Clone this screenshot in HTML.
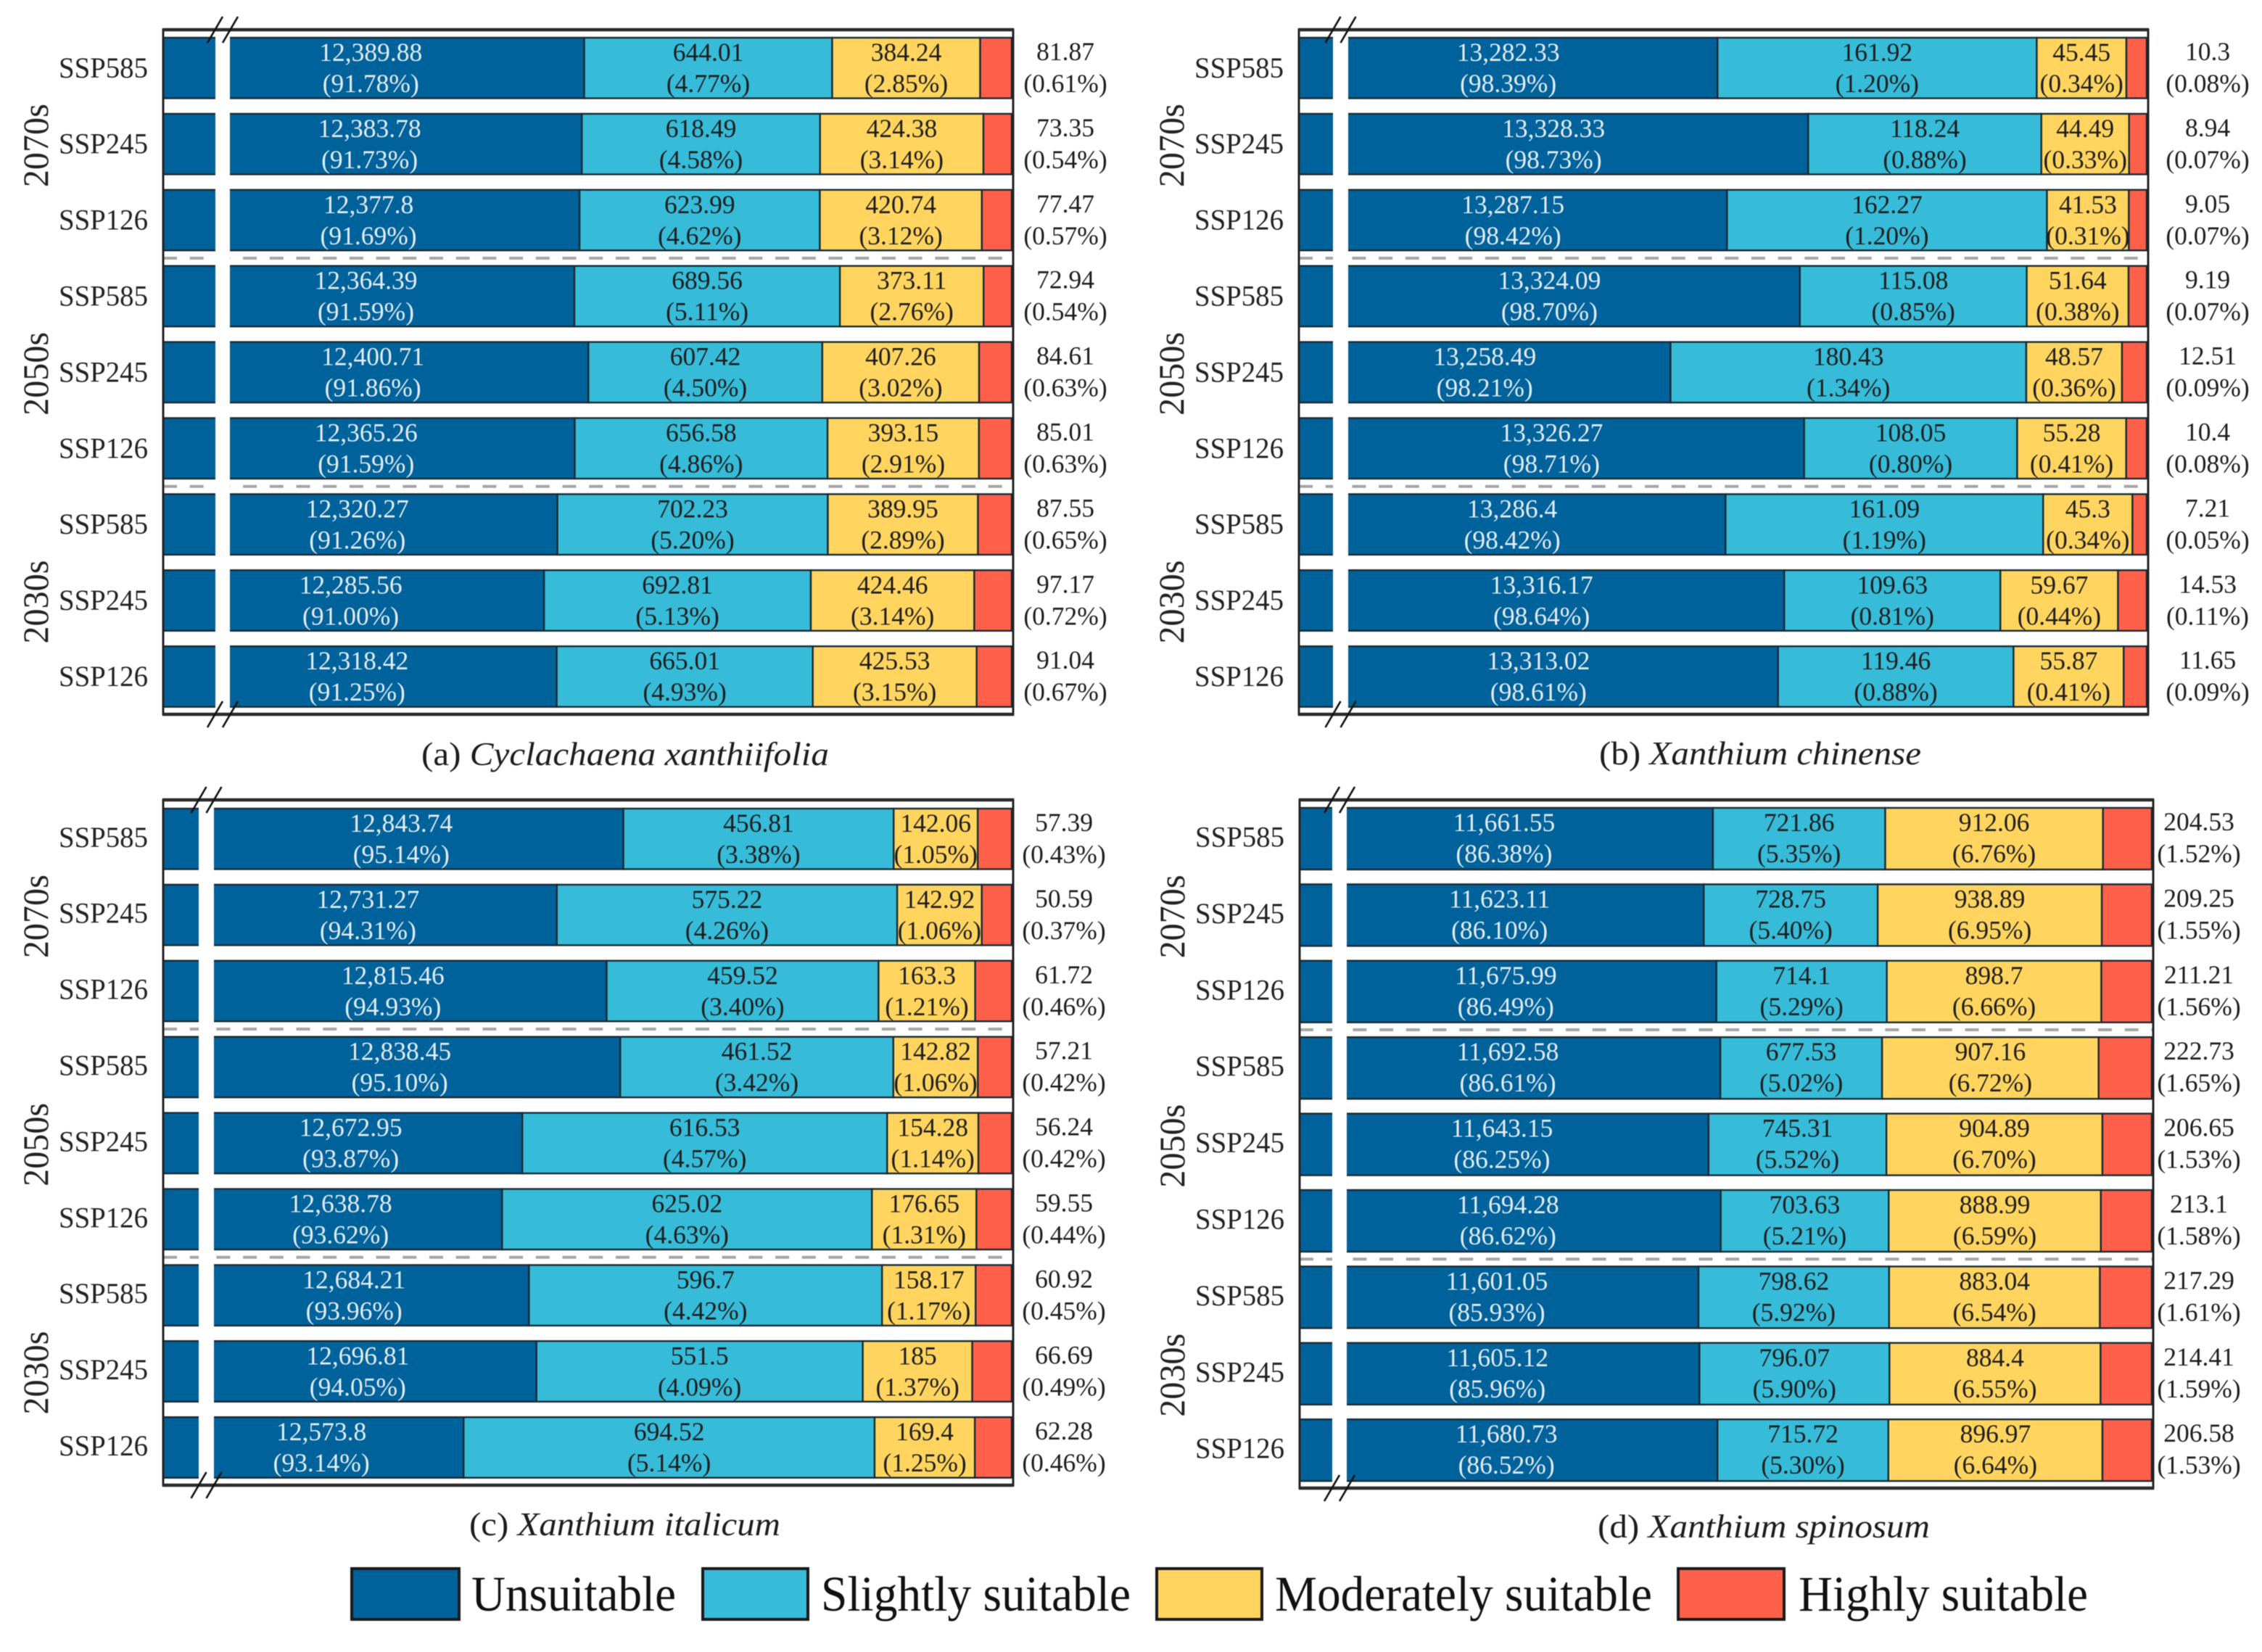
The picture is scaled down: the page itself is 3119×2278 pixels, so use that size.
<!DOCTYPE html>
<html lang="en">
<head>
<meta charset="utf-8">
<title>Suitable habitat area by species, period and scenario</title>
<style>
  html, body { margin: 0; padding: 0; background: #fff; }
  #chart { display: block; width: 3119px; height: 2278px; filter: blur(0.5px); font-family: "Liberation Serif", "Times New Roman", serif; }
</style>
</head>
<body>
<svg id="chart" xmlns="http://www.w3.org/2000/svg" width="3119" height="2278" viewBox="0 0 3119 2278"></svg>
<script>
// Category labels
const periods = ['2070s', '2050s', '2030s'];
const scenarios = ['SSP585', 'SSP245', 'SSP126'];
const classNames = ['Unsuitable', 'Slightly suitable', 'Moderately suitable', 'Highly suitable'];

// (a) Cyclachaena xanthiifolia, rows top to bottom
const aUnsuitable = [12389.88, 12383.78, 12377.8, 12364.39, 12400.71, 12365.26, 12320.27, 12285.56, 12318.42];
const aSlightly = [644.01, 618.49, 623.99, 689.56, 607.42, 656.58, 702.23, 692.81, 665.01];
const aModerately = [384.24, 424.38, 420.74, 373.11, 407.26, 393.15, 389.95, 424.46, 425.53];
const aHighly = [81.87, 73.35, 77.47, 72.94, 84.61, 85.01, 87.55, 97.17, 91.04];

// (b) Xanthium chinense
const bUnsuitable = [13282.33, 13328.33, 13287.15, 13324.09, 13258.49, 13326.27, 13286.4, 13316.17, 13313.02];
const bSlightly = [161.92, 118.24, 162.27, 115.08, 180.43, 108.05, 161.09, 109.63, 119.46];
const bModerately = [45.45, 44.49, 41.53, 51.64, 48.57, 55.28, 45.3, 59.67, 55.87];
const bHighly = [10.3, 8.94, 9.05, 9.19, 12.51, 10.4, 7.21, 14.53, 11.65];

// (c) Xanthium italicum
const cUnsuitable = [12843.74, 12731.27, 12815.46, 12838.45, 12672.95, 12638.78, 12684.21, 12696.81, 12573.8];
const cSlightly = [456.81, 575.22, 459.52, 461.52, 616.53, 625.02, 596.7, 551.5, 694.52];
const cModerately = [142.06, 142.92, 163.3, 142.82, 154.28, 176.65, 158.17, 185, 169.4];
const cHighly = [57.39, 50.59, 61.72, 57.21, 56.24, 59.55, 60.92, 66.69, 62.28];

// (d) Xanthium spinosum
const dUnsuitable = [11661.55, 11623.11, 11675.99, 11692.58, 11643.15, 11694.28, 11601.05, 11605.12, 11680.73];
const dSlightly = [721.86, 728.75, 714.1, 677.53, 745.31, 703.63, 798.62, 796.07, 715.72];
const dModerately = [912.06, 938.89, 898.7, 907.16, 904.89, 888.99, 883.04, 884.4, 896.97];
const dHighly = [204.53, 209.25, 211.21, 222.73, 206.65, 213.1, 217.29, 214.41, 206.58];

const NS = 'http://www.w3.org/2000/svg';
const root = document.getElementById('chart');
const classColors = ['#00629b', '#36bcd9', '#ffd55f', '#ff604a'];
const classSlugs = ['unsuitable', 'slightly-suitable', 'moderately-suitable', 'highly-suitable'];
const DARK = '#1d1d1d';

function make(tag, attrs, parent) {
  const el = document.createElementNS(NS, tag);
  for (const k in attrs) el.setAttribute(k, attrs[k]);
  (parent || root).appendChild(el);
  return el;
}
function fmtValue(v) {
  return v.toLocaleString('en-US', { maximumFractionDigits: 2 });
}
function fmtShare(v, total) {
  return '(' + (v / total * 100).toFixed(2) + '%)';
}

const panels = [
  { id: 'a', series: [aUnsuitable, aSlightly, aModerately, aHighly],
    left: 225, right: 1397, top: 41, bottom: 985, barTop: 52, pitch: 104.9, barH: 83.5, labelNudge: 0,
    domainStart: 11296.5, rangeEnd: 1395, gapL: 297, gapR: 317, firstShift: -4, outsideX: 1469,
    capPrefix: '(a) ', capName: 'Cyclachaena xanthiifolia', capL: 581, capR: 1143, capY: 1055 },
  { id: 'b', series: [bUnsuitable, bSlightly, bModerately, bHighly],
    left: 1791, right: 2962, top: 41, bottom: 985, barTop: 52, pitch: 104.9, barH: 83.5, labelNudge: 0,
    domainStart: 13070, rangeEnd: 2960, gapL: 1838, gapR: 1859, firstShift: 0, outsideX: 3044,
    capPrefix: '(b) ', capName: 'Xanthium chinense', capL: 2205, capR: 2649, capY: 1054 },
  { id: 'c', series: [cUnsuitable, cSlightly, cModerately, cHighly],
    left: 225, right: 1397, top: 1103, bottom: 2048, barTop: 1115, pitch: 104.9, barH: 83.5, labelNudge: -2,
    domainStart: 12066, rangeEnd: 1395, gapL: 274, gapR: 295, firstShift: 11, outsideX: 1467,
    capPrefix: '(c) ', capName: 'Xanthium italicum', capL: 647, capR: 1076, capY: 2117 },
  { id: 'd', series: [dUnsuitable, dSlightly, dModerately, dHighly],
    left: 1792, right: 2969, top: 1103, bottom: 2052, barTop: 1114, pitch: 105.4, barH: 85, labelNudge: -2,
    domainStart: 9930, rangeEnd: 2967, gapL: 1837, gapR: 1857, firstShift: -3, outsideX: 3032,
    capPrefix: '(d) ', capName: 'Xanthium spinosum', capL: 2203, capR: 2661, capY: 2120 }
];

function drawPanel(p) {
  const g = make('g', {});
  
  

  const domainEnd = 13500;
  const x = v => p.left + (v - p.domainStart) / (domainEnd - p.domainStart) * (p.rangeEnd - p.left);
  const rowCount = p.series[0].length;

  for (let r = 0; r < rowCount; r++) {
    const rowY = p.barTop + r * p.pitch;
    const rowG = make('g', {}, g);
    
    

    const total = p.series.reduce((s, arr) => s + arr[r], 0);
    let cum = 0;
    p.series.forEach((arr, c) => {
      const v = arr[r];
      const x0 = c === 0 ? p.left : x(cum);
      const x1 = x(cum + v);
      cum += v;

      const seg = make('rect', { x: x0, y: rowY, width: Math.max(0, x1 - x0), height: p.barH, fill: classColors[c], stroke: '#1a2a33', 'stroke-width': 2.4 }, rowG);
      
      

      let cx = (x0 + x1) / 2;
      if (c === 0) cx += p.firstShift;
      if (c === 3) cx = p.outsideX;
      const fill = c === 0 ? '#e4edf3' : DARK;
      const yOff = c === 3 ? 31 : 32;

      const t1 = make('text', { x: cx, y: rowY + yOff, 'text-anchor': 'middle', 'font-size': 35.5, fill: fill }, rowG);
      
      
      t1.textContent = fmtValue(v);

      const t2 = make('text', { x: cx, y: rowY + 75, 'text-anchor': 'middle', 'font-size': 35.5, fill: fill }, rowG);
      
      
      t2.textContent = fmtShare(v, total);
    });

    const lab = make('text', { x: p.left - 21, y: rowY + p.barH / 2 + 13 + p.labelNudge, 'text-anchor': 'end', 'font-size': 40, textLength: 123, lengthAdjust: 'spacingAndGlyphs', fill: '#222' }, rowG);
    
    
    lab.textContent = scenarios[r % 3];
  }

  // dashed separators between period groups
  for (let k = 1; k < periods.length; k++) {
    const sepY = p.barTop + (3 * k) * p.pitch - (p.pitch - p.barH) / 2;
    const sep = make('line', { x1: p.left, x2: p.right, y1: sepY, y2: sepY, stroke: '#a5a5a5', 'stroke-width': 4, 'stroke-dasharray': '19 17.7' }, g);
    
    
  }

  // axis break gap
  const gap = make('rect', { x: p.gapL, y: p.top + 2, width: p.gapR - p.gapL, height: p.bottom - p.top - 4, fill: '#fff' }, g);
  
  

  // frame
  const frame = make('rect', { x: p.left, y: p.top, width: p.right - p.left, height: p.bottom - p.top, fill: 'none', stroke: '#222', 'stroke-width': 3 }, g);
  
  
  [p.top, p.bottom].forEach(yy => {
    const edge = make('line', { x1: p.left - 1, x2: p.right + 1, y1: yy, y2: yy, stroke: '#2a2a2a', 'stroke-width': 4.5 }, g);
    
    
  });

  // axis break slashes
  const mid = (p.gapL + p.gapR) / 2;
  [p.top, p.bottom].forEach(yy => {
    [-10.5, 10.5].forEach(dx => {
      const s = make('line', { x1: mid + dx - 10.5, y1: yy + 18, x2: mid + dx + 10.5, y2: yy - 18, stroke: '#111', 'stroke-width': 2.6 }, g);
      
      
    });
  });

  // period labels
  periods.forEach((label, k) => {
    const cy = p.barTop + (3 * k + 1) * p.pitch + p.barH / 2 + 2;
    const bx = p.left - 159;
    const t = make('text', { x: bx, y: cy, 'text-anchor': 'middle', 'font-size': 50, textLength: 115, lengthAdjust: 'spacingAndGlyphs', fill: '#222', transform: 'rotate(-90 ' + bx + ' ' + cy + ')' }, g);
    
    
    t.textContent = label;
  });

  // caption
  const cap = make('text', { x: p.capL, y: p.capY, 'font-size': 46, textLength: p.capR - p.capL, lengthAdjust: 'spacingAndGlyphs', fill: '#1c1c1c' }, g);
  
  
  cap.appendChild(document.createTextNode(p.capPrefix));
  const it = make('tspan', { 'font-style': 'italic' }, cap);
  it.textContent = p.capName;
}

panels.forEach(drawPanel);

// legend
const legendLayout = [
  { boxL: 485, boxR: 633, textL: 650, textR: 932 },
  { boxL: 969, boxR: 1114, textL: 1132, textR: 1559 },
  { boxL: 1595, boxR: 1740, textL: 1758, textR: 2278 },
  { boxL: 2314, boxR: 2460, textL: 2480, textR: 2879 }
];
const legend = make('g', {});


classNames.forEach((name, i) => {
  const L = legendLayout[i];
  const box = make('rect', { x: L.boxL, y: 2163, width: L.boxR - L.boxL, height: 70, fill: classColors[i], stroke: '#1a1a1a', 'stroke-width': 4 }, legend);
  
  
  const t = make('text', { x: L.textL, y: 2221, 'font-size': 69, textLength: L.textR - L.textL, lengthAdjust: 'spacingAndGlyphs', fill: '#111' }, legend);
  
  
  t.textContent = name;
});
</script>
</body>
</html>
